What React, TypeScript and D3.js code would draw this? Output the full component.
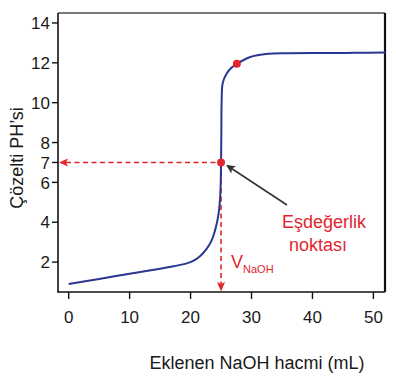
import React from "react";
import * as d3 from "d3";

const volumes = [0, 5, 10, 15, 17, 18.3, 19.5, 20.5, 21.5, 22.6, 23.45, 24.0, 24.4, 24.66, 24.82, 24.95, 25.0, 25.05, 25.1, 25.27, 25.9, 26.7, 27.6, 29.7, 32.7, 36, 42, 47, 52];
const phValues = [0.9, 1.15, 1.42, 1.67, 1.78, 1.86, 1.95, 2.07, 2.28, 2.65, 3.08, 3.58, 4.08, 4.58, 5.1, 6.0, 7.0, 8.5, 10.1, 10.98, 11.45, 11.75, 11.95, 12.28, 12.45, 12.48, 12.49, 12.5, 12.52];
const xTicks = [0, 10, 20, 30, 40, 50];
const yTicks = [2, 4, 6, 7, 8, 10, 12, 14];
const equivalence = { v: 25, ph: 7 };
const bufferPoint = { v: 27.6, ph: 11.95 };
const xTitle = "Eklenen NaOH hacmi (mL)";
const yTitle = "Çözelti PH’si";

const RED = "#e0262e";
const BLUE = "#2b3690";
const FONT = "'Liberation Sans', Arial, Helvetica, sans-serif";

export default function App() {
  const W = 396, H = 381;
  const x = d3.scaleLinear().domain([-1.75, 51.9]).range([58, 385]);
  const y = d3.scaleLinear().domain([0.5, 14.5]).range([292, 13]);
  const pts: [number, number][] = volumes.map((v, i) => [x(v), y(phValues[i])]);
  const line = d3.line().curve(d3.curveCatmullRom.alpha(0.5))(pts) || "";
  const ex = x(equivalence.v), ey = y(equivalence.ph);
  const bx = x(bufferPoint.v), by = y(bufferPoint.ph);
  const left = x.range()[0], right = x.range()[1];
  const bottom = y.range()[0], top = y.range()[1];

  return (
    <svg width={W} height={H} style={{ position: "absolute", left: 0, top: 0, background: "#fff" }} fontFamily={FONT}>
      <defs>
        <marker id="blk" viewBox="0 0 10 10" refX="9" refY="5" markerWidth="9" markerHeight="9" markerUnits="userSpaceOnUse" orient="auto">
          <path d="M0,0 L10,5 L0,10 L2.5,5 Z" fill="#333" />
        </marker>
      </defs>
      {/* frame */}
      <line x1={left} x2={right} y1={top} y2={top} stroke="#7a7a7a" strokeWidth={2} />
      <line x1={right} x2={right} y1={top} y2={bottom} stroke="#111" strokeWidth={2.2} />
      <line x1={left} x2={left} y1={top} y2={bottom + 0.75} stroke="#111" strokeWidth={1.6} />
      <line x1={left} x2={right} y1={bottom} y2={bottom} stroke="#111" strokeWidth={1.6} />
      {/* y ticks */}
      {yTicks.map((t) => (
        <g key={"y" + t}>
          <line x1={left - 6} x2={left} y1={y(t)} y2={y(t)} stroke="#111" strokeWidth={1.4} />
          <text x={left - 8} y={y(t)} dy="0.36em" textAnchor="end" fontSize={17} fill="#1a1a1a">{t}</text>
        </g>
      ))}
      {/* x ticks */}
      {xTicks.map((t) => (
        <g key={"x" + t}>
          <line x1={x(t)} x2={x(t)} y1={bottom} y2={bottom + 7} stroke="#111" strokeWidth={1.4} />
          <text x={x(t)} y={323} textAnchor="middle" fontSize={17} fill="#1a1a1a">{t}</text>
        </g>
      ))}
      <text x={257} y={369} textAnchor="middle" fontSize={18} fill="#1a1a1a">{xTitle}</text>
      <text transform={`translate(23,158) rotate(-90)`} textAnchor="middle" fontSize={18} fill="#1a1a1a">{yTitle}</text>
      {/* dashed guides */}
      <line x1={left + 8} x2={ex} y1={ey} y2={ey} stroke={RED} strokeWidth={1.6} strokeDasharray="5,3.5" />
      <path d={`M${left + 1},${ey} L${left + 10},${ey - 4} L${left + 8},${ey} L${left + 10},${ey + 4} Z`} fill={RED} />
      <line x1={ex} x2={ex} y1={ey} y2={bottom - 8} stroke={RED} strokeWidth={1.6} strokeDasharray="5,3.5" />
      <path d={`M${ex},${bottom - 0.5} L${ex - 4},${bottom - 10} L${ex},${bottom - 8} L${ex + 4},${bottom - 10} Z`} fill={RED} />
      {/* curve */}
      <path d={line} fill="none" stroke={BLUE} strokeWidth={2} />
      <circle cx={ex} cy={ey} r={4} fill={RED} />
      <circle cx={bx} cy={by} r={4} fill={RED} />
      {/* annotation */}
      <line x1={287} y1={205} x2={ex + 6} y2={ey + 3} stroke="#333" strokeWidth={1.6} markerEnd="url(#blk)" />
      <text x={324} y={228} textAnchor="middle" fontSize={18} fill={RED}>Eşdeğerlik</text>
      <text x={318} y={251} textAnchor="middle" fontSize={18} fill={RED}>noktası</text>
      <text x={231} y={268} fontSize={18} fill={RED}>V<tspan fontSize={11} dy={5}>NaOH</tspan></text>
    </svg>
  );
}
